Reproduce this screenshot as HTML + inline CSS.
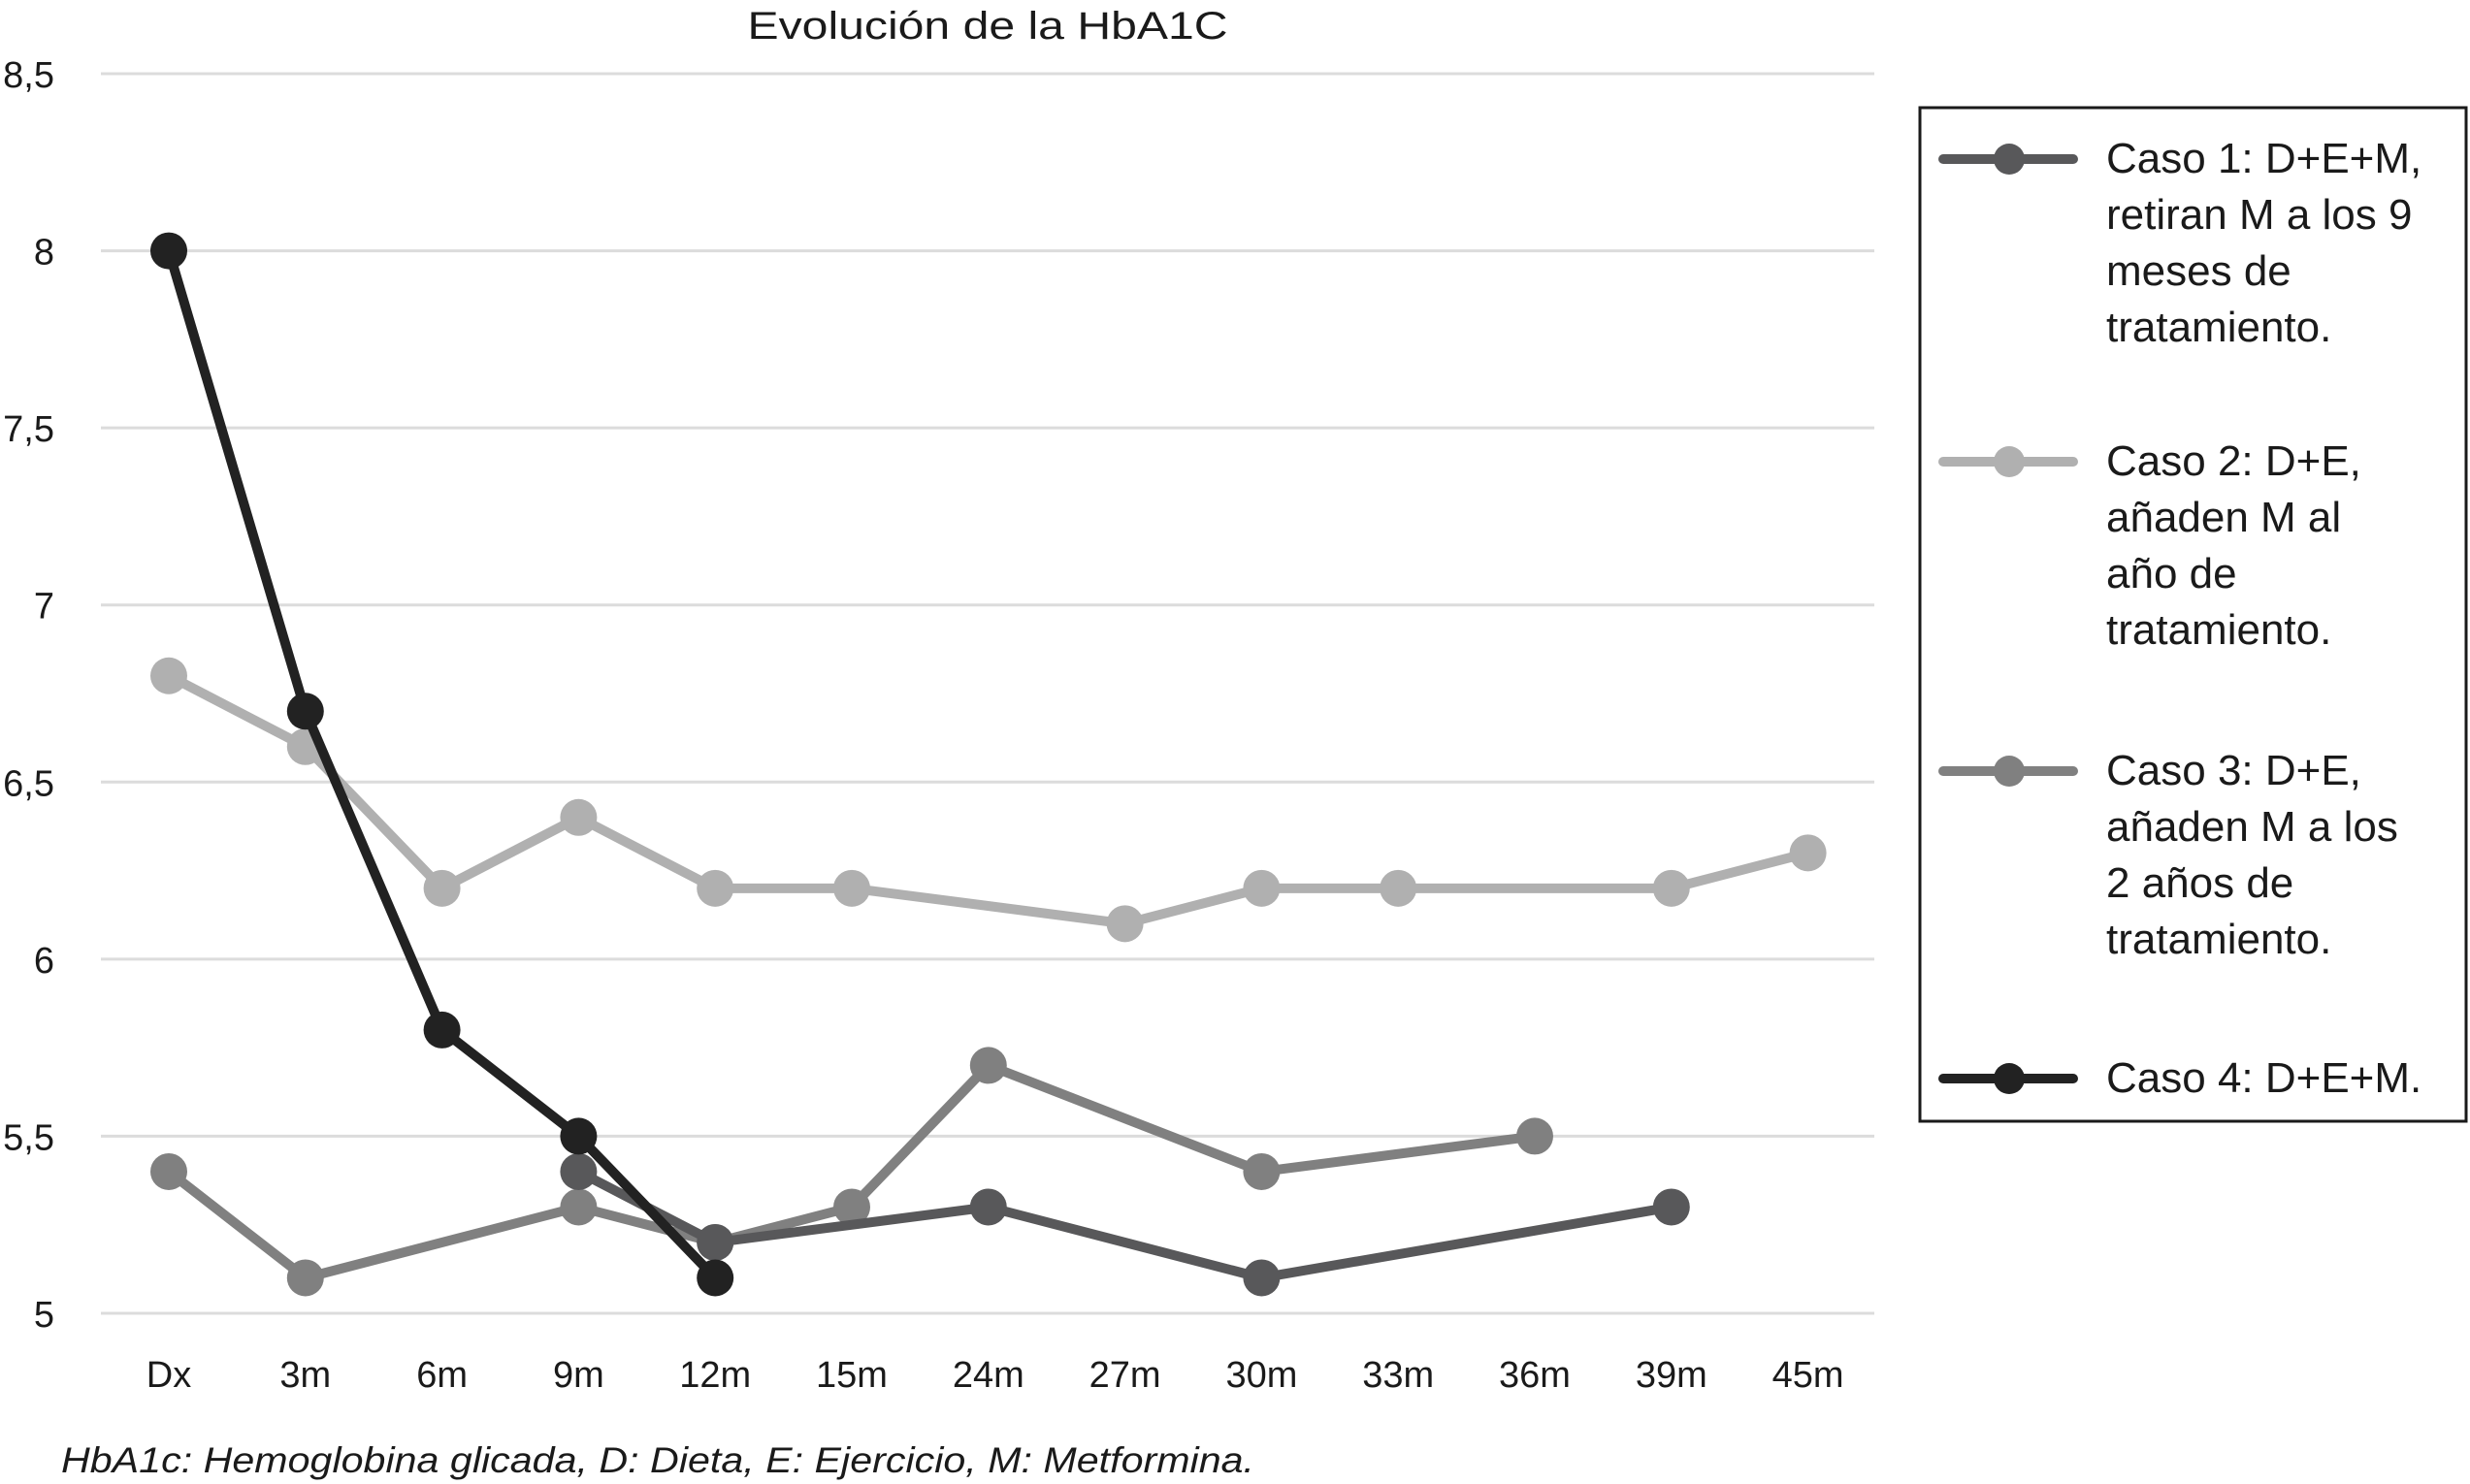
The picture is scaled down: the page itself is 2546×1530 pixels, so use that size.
<!DOCTYPE html>
<html>
<head>
<meta charset="utf-8">
<style>
  html, body { margin: 0; padding: 0; background: #fff; }
  svg { display: block; }
  text { font-family: "Liberation Sans", sans-serif; fill: #1a1a1a; }
</style>
</head>
<body>
<svg id="chart" width="2546" height="1530" viewBox="0 0 2546 1530" xmlns="http://www.w3.org/2000/svg">
  <text x="1018" y="40" font-size="40" text-anchor="middle" textLength="495" lengthAdjust="spacingAndGlyphs">Evolución de la HbA1C</text>
  <g id="grid"></g>
  <g id="yticks"></g>
  <g id="xticks"></g>
  <g id="series"></g>
  <g>
    <rect x="1979" y="111" width="563" height="1045" fill="#fff" stroke="#1a1a1a" stroke-width="3"/>
    <g>
      <line x1="2003" y1="164" x2="2137" y2="164" stroke="#58585a" stroke-width="10" stroke-linecap="round"/>
      <circle cx="2071" cy="164" r="16" fill="#58585a"/>
      <text x="2171" y="178" font-size="44">Caso 1: D+E+M,</text>
      <text x="2171" y="236" font-size="44">retiran M a los 9</text>
      <text x="2171" y="294" font-size="44">meses de</text>
      <text x="2171" y="352" font-size="44">tratamiento.</text>
    </g>
    <g>
      <line x1="2003" y1="476" x2="2137" y2="476" stroke="#b0b0b0" stroke-width="10" stroke-linecap="round"/>
      <circle cx="2071" cy="476" r="16" fill="#b0b0b0"/>
      <text x="2171" y="490" font-size="44">Caso 2: D+E,</text>
      <text x="2171" y="548" font-size="44">añaden M al</text>
      <text x="2171" y="606" font-size="44">año de</text>
      <text x="2171" y="664" font-size="44">tratamiento.</text>
    </g>
    <g>
      <line x1="2003" y1="795" x2="2137" y2="795" stroke="#808080" stroke-width="10" stroke-linecap="round"/>
      <circle cx="2071" cy="795" r="16" fill="#808080"/>
      <text x="2171" y="809" font-size="44">Caso 3: D+E,</text>
      <text x="2171" y="867" font-size="44">añaden M a los</text>
      <text x="2171" y="925" font-size="44">2 años de</text>
      <text x="2171" y="983" font-size="44">tratamiento.</text>
    </g>
    <g>
      <line x1="2003" y1="1112" x2="2137" y2="1112" stroke="#222" stroke-width="10" stroke-linecap="round"/>
      <circle cx="2071" cy="1112" r="16" fill="#222"/>
      <text x="2171" y="1126" font-size="44">Caso 4: D+E+M.</text>
    </g>
  </g>
  <text x="63" y="1518" font-size="37" font-style="italic" textLength="1230" lengthAdjust="spacingAndGlyphs">HbA1c: Hemoglobina glicada, D: Dieta, E: Ejercicio, M: Metformina.</text>
</svg>
<script>
const categories = ["Dx","3m","6m","9m","12m","15m","24m","27m","30m","33m","36m","39m","45m"];
const yTicks = [5, 5.5, 6, 6.5, 7, 7.5, 8, 8.5];
const yTickLabels = ["5","5,5","6","6,5","7","7,5","8","8,5"];
const caso1 = [null,null,null,5.4,5.2,null,5.3,null,5.1,null,null,5.3,null];
const caso2 = [6.8,6.6,6.2,6.4,6.2,6.2,null,6.1,6.2,6.2,null,6.2,6.3];
const caso3 = [5.4,5.1,null,5.3,5.2,5.3,5.7,null,5.4,null,5.5,null,null];
const caso4 = [8,6.7,5.8,5.5,5.1,null,null,null,null,null,null,null,null];

const NS = "http://www.w3.org/2000/svg";
const X0 = 174, DX = 140.8;
const Y5 = 1354, PER = (1354 - 76) / 3.5;
function xPos(i) { return X0 + i * DX; }
function yPos(v) { return Y5 - (v - 5) * PER; }

const grid = document.getElementById("grid");
const yt = document.getElementById("yticks");
yTicks.forEach((v, i) => {
  const l = document.createElementNS(NS, "line");
  
  
  l.setAttribute("x1", 104); l.setAttribute("x2", 1932);
  l.setAttribute("y1", yPos(v)); l.setAttribute("y2", yPos(v));
  l.setAttribute("stroke", "#dcdcdc"); l.setAttribute("stroke-width", 3);
  grid.appendChild(l);
  const t = document.createElementNS(NS, "text");
  
  
  t.setAttribute("x", 56); t.setAttribute("y", yPos(v) + 14);
  t.setAttribute("font-size", "38"); t.setAttribute("text-anchor", "end");
  t.textContent = yTickLabels[i];
  yt.appendChild(t);
});

const xt = document.getElementById("xticks");
categories.forEach((c, i) => {
  const t = document.createElementNS(NS, "text");
  
  
  t.setAttribute("x", xPos(i)); t.setAttribute("y", 1430);
  t.setAttribute("font-size", "38"); t.setAttribute("text-anchor", "middle");
  t.textContent = c;
  xt.appendChild(t);
});

const sg = document.getElementById("series");
function drawSeries(vals, color, name) {
  const g = document.createElementNS(NS, "g");
  
  
  const pts = [];
  vals.forEach((v, i) => { if (v !== null) pts.push([xPos(i), yPos(v)]); });
  const pl = document.createElementNS(NS, "polyline");
  
  
  pl.setAttribute("points", pts.map(p => p.join(",")).join(" "));
  pl.setAttribute("fill", "none"); pl.setAttribute("stroke", color);
  pl.setAttribute("stroke-width", 10); pl.setAttribute("stroke-linejoin", "round");
  g.appendChild(pl);
  pts.forEach(p => {
    const c = document.createElementNS(NS, "circle");
    
    
    c.setAttribute("cx", p[0]); c.setAttribute("cy", p[1]);
    c.setAttribute("r", 19); c.setAttribute("fill", color);
    g.appendChild(c);
  });
  sg.appendChild(g);
}
drawSeries(caso2, "#b0b0b0", "caso-2-series");
drawSeries(caso3, "#808080", "caso-3-series");
drawSeries(caso1, "#58585a", "caso-1-series");
drawSeries(caso4, "#222222", "caso-4-series");
</script>
</body>
</html>
